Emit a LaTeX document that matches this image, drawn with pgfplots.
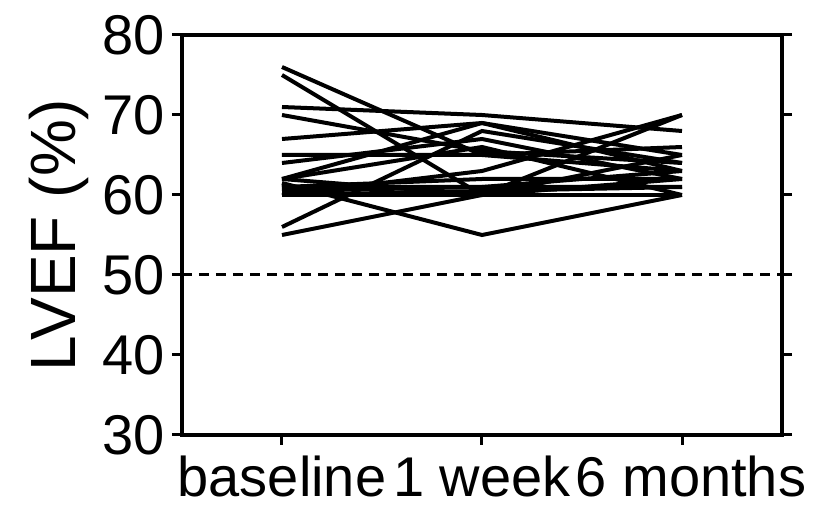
\documentclass[border=0pt]{standalone}
\usepackage{fontspec}
\setmainfont{Liberation Sans}
\usepackage{pgfplots}
\usetikzlibrary{calc}
\pgfplotsset{compat=1.18}
\begin{document}
\fontsize{55}{63}\selectfont
\begin{tikzpicture}
\begin{axis}[
  name=ax,
  scale only axis,
  width=600pt, height=400pt,
  xmin=-0.5, xmax=2.5, ymin=30, ymax=80,
  xtick={0,1,2},
  xticklabels={baseline,1 week,\hspace*{18pt}6 months},
  ytick={30,40,50,60,70,80},
  tick align=outside,
  xtick pos=bottom,
  ytick pos=both,
  major tick length=10pt,
  axis line style={line width=3.2pt},
  every axis/.append style={line width=3.2pt},
  every tick/.style={line width=3pt, black},
  /pgf/number format/assume math mode=true,
  tick label style={font=\fontsize{56}{64}\selectfont},
  yticklabel style={xshift=13pt},
  xticklabel style={yshift=9pt},
  ylabel={LVEF (\%)},
  ylabel style={font=\fontsize{64}{72}\selectfont, yshift=-24pt},
  clip=false,
]
\addplot[black, line width=3pt, dash pattern=on 10pt off 7pt, mark=none] coordinates {(-0.5,50) (2.5,50)};
\addplot[black, line width=4pt] coordinates {(0,76) (1,65) (2,63)};
\addplot[black, line width=4pt] coordinates {(0,75) (1,60) (2,62)};
\addplot[black, line width=4pt] coordinates {(0,71) (1,70) (2,68)};
\addplot[black, line width=4pt] coordinates {(0,70) (1,65.5) (2,64)};
\addplot[black, line width=4pt] coordinates {(0,67) (1,69) (2,63)};
\addplot[black, line width=4pt] coordinates {(0,65) (1,65) (2,66)};
\addplot[black, line width=4pt] coordinates {(0,64) (1,67) (2,62)};
\addplot[black, line width=4pt] coordinates {(0,62) (1,69) (2,65)};
\addplot[black, line width=4pt] coordinates {(0,62) (1,60) (2,70)};
\addplot[black, line width=4pt] coordinates {(0,61.5) (1,55) (2,60)};
\addplot[black, line width=4pt] coordinates {(0,61) (1,62) (2,62)};
\addplot[black, line width=4pt] coordinates {(0,60.5) (1,61) (2,61)};
\addplot[black, line width=4pt] coordinates {(0,60) (1,60) (2,60)};
\addplot[black, line width=4pt] coordinates {(0,60) (1,63) (2,70)};
\addplot[black, line width=4pt] coordinates {(0,56) (1,68) (2,64)};
\addplot[black, line width=4pt] coordinates {(0,55) (1,60) (2,65)};
\addplot[black, line width=4pt] coordinates {(0,62) (1,66) (2,60)};
\addplot[black, line width=4pt] coordinates {(0,61) (1,61) (2,63)};
\addplot[black, line width=4pt] coordinates {(0,60) (1,60.5) (2,61)};
\end{axis}
\pgfresetboundingbox
\path ($(ax.south west)+(-182pt,-73pt)$) rectangle ($(ax.north east)+(38pt,35pt)$);
\end{tikzpicture}
\end{document}
